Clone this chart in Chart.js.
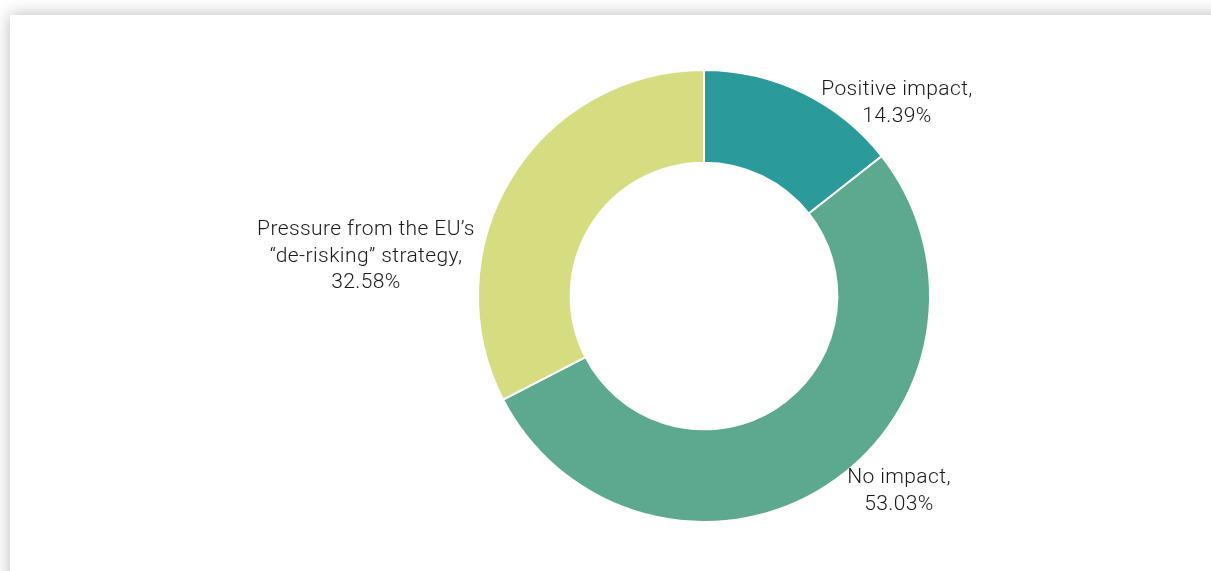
<!DOCTYPE html>
<html>
<head>
<meta charset="utf-8">
<script src="https://cdn.jsdelivr.net/npm/chart.js@4.4.1/dist/chart.umd.min.js"></script>
<style>
  html, body { margin: 0; padding: 0; background: #fff; overflow: hidden; }
  .card {
    position: absolute;
    left: 10px; top: 15px;
    width: 1240px; height: 600px;
    background: #fff;
    box-shadow: 0 0 16px rgba(0, 0, 0, 0.28);
  }
  .wrap { position: absolute; left: 0; top: 0; width: 1211px; height: 571px; }
</style>
</head>
<body>
<div class="card"></div>
<div class="wrap"><canvas id="impactChart"></canvas></div>
<script>
// Survey answers
const categories = ['Positive impact', 'No impact', 'Pressure from the EU\u2019s \u201cde-risking\u201d strategy'];
const shares = [14.39, 53.03, 32.58];
const sliceColors = ['#2a9a9b', '#5da98f', '#d6dc80'];

// label text lines and where they sit relative to the doughnut centre
const labelLines = [
    ['Positive impact,', '14.39%'],
    ['No impact,', '53.03%'],
    ['Pressure from the EU\u2019s', '\u201cde-risking\u201d strategy,', '32.58%']
];
const labelOffsets = [[193, -206], [195, 182], [-338, -66]];

// Draws the slice labels next to the ring
const sliceLabels = {
    id: 'sliceLabels',
    afterDraw(chart) {
        const ctx = chart.ctx;
        const arc = chart.getDatasetMeta(0).data[0];
        ctx.save();
        ctx.font = '300 21px "Roboto", "Liberation Sans", sans-serif';
        ctx.letterSpacing = '0.4px';
        ctx.fillStyle = '#1a1a1a';
        ctx.textAlign = 'center';
        ctx.textBaseline = 'middle';
        labelLines.forEach((lines, i) => {
            const x = arc.x + labelOffsets[i][0];
            let y = arc.y + labelOffsets[i][1];
            lines.forEach(line => {
                ctx.fillText(line, x, y);
                y += 26.5;
            });
        });
        ctx.restore();
    }
};

const ctx = document.getElementById('impactChart').getContext('2d');
new Chart(ctx, {
    type: 'doughnut',
    data: {
        labels: categories,
        datasets: [{
            data: shares,
            backgroundColor: sliceColors,
            borderColor: '#ffffff',
            borderWidth: 2
        }]
    },
    options: {
        responsive: true,
        maintainAspectRatio: false,
        animation: false,
        cutout: '59%',
        layout: {
            padding: { left: 197, right: 0, top: 69, bottom: 48 }
        },
        plugins: {
            legend: { display: false },
            tooltip: { enabled: false }
        }
    },
    plugins: [sliceLabels]
});
</script>
</body>
</html>
